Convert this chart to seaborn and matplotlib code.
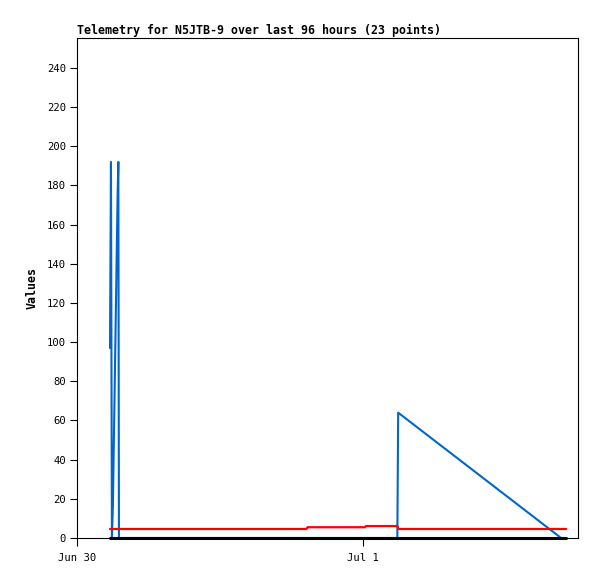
import matplotlib
matplotlib.use("Agg")
import matplotlib.pyplot as plt
import seaborn as sns
import pandas as pd
import numpy as np

# hours since Jun 30 00:00
hours = [2.77, 2.85, 2.93, 3.01, 3.09, 3.17, 3.25, 3.33, 3.41, 3.47, 3.52,
         19.25, 19.35, 24.15, 24.25, 26.88, 26.95, 41.05]
blue_vals = [97, 192, 0, 16, 48, 80, 112, 144, 176, 192, 0,
             0, 0, 0, 0, 0, 64, -2]
red_vals = [4.6, 4.6, 4.6, 4.6, 4.6, 4.6, 4.6, 4.6, 4.6, 4.6, 4.6,
            4.6, 5.5, 5.5, 6.1, 6.1, 4.6, 4.6]
black_vals = [0] * len(hours)

xtick_pos = [0, 24]
xtick_labels = ["Jun 30", "Jul 1"]
yticks = list(range(0, 241, 20))
title = "Telemetry for N5JTB-9 over last 96 hours (23 points)"

sns.set_style("white")
plt.rcParams['font.family'] = ['DejaVu Sans Mono', 'DejaVu Sans']
plt.rcParams['text.color'] = 'black'
plt.rcParams['axes.labelcolor'] = 'black'

fig = plt.figure(figsize=(5.97, 5.79), dpi=100)
ax = fig.add_axes([77/597, 41/579, 501/597, 500/579])

df = pd.DataFrame({"t": hours, "blue": blue_vals, "red": red_vals, "black": black_vals})

sns.lineplot(data=df, x="t", y="blue", ax=ax, color="#0066CC", lw=1.5, estimator=None, sort=False, zorder=2)
sns.lineplot(data=df, x="t", y="red", ax=ax, color="#FF0000", lw=1.6, estimator=None, sort=False, zorder=3)
sns.lineplot(data=df, x="t", y="black", ax=ax, color="#000000", lw=2.2, estimator=None, sort=False, zorder=4)
ax.lines[-1].set_clip_on(False)

ax.set_xlim(0, 42.04)
ax.set_ylim(0, 255.3)
ax.set_yticks(yticks)
ax.set_yticklabels([str(v) for v in yticks], fontsize=7.6)
ax.set_xticks(xtick_pos)
ax.set_xticklabels(xtick_labels, fontsize=7.6)
ax.tick_params(axis='y', direction='out', length=5, width=0.8, color='black', pad=3,
               left=True, labelcolor='black')
ax.tick_params(axis='x', direction='out', length=6, width=0.8, color='black', pad=5,
               bottom=True, labelcolor='black')
for s in ax.spines.values():
    s.set_color('black')
    s.set_linewidth(0.8)
ax.set_xlabel("")
ax.set_ylabel("Values", fontsize=8.4, fontweight='bold', labelpad=6, color='black')
ax.set_title(title, loc='left', fontsize=8.4, fontweight='bold', pad=3, color='black')
ax.grid(False)

fig.savefig("out.png", dpi=100)
